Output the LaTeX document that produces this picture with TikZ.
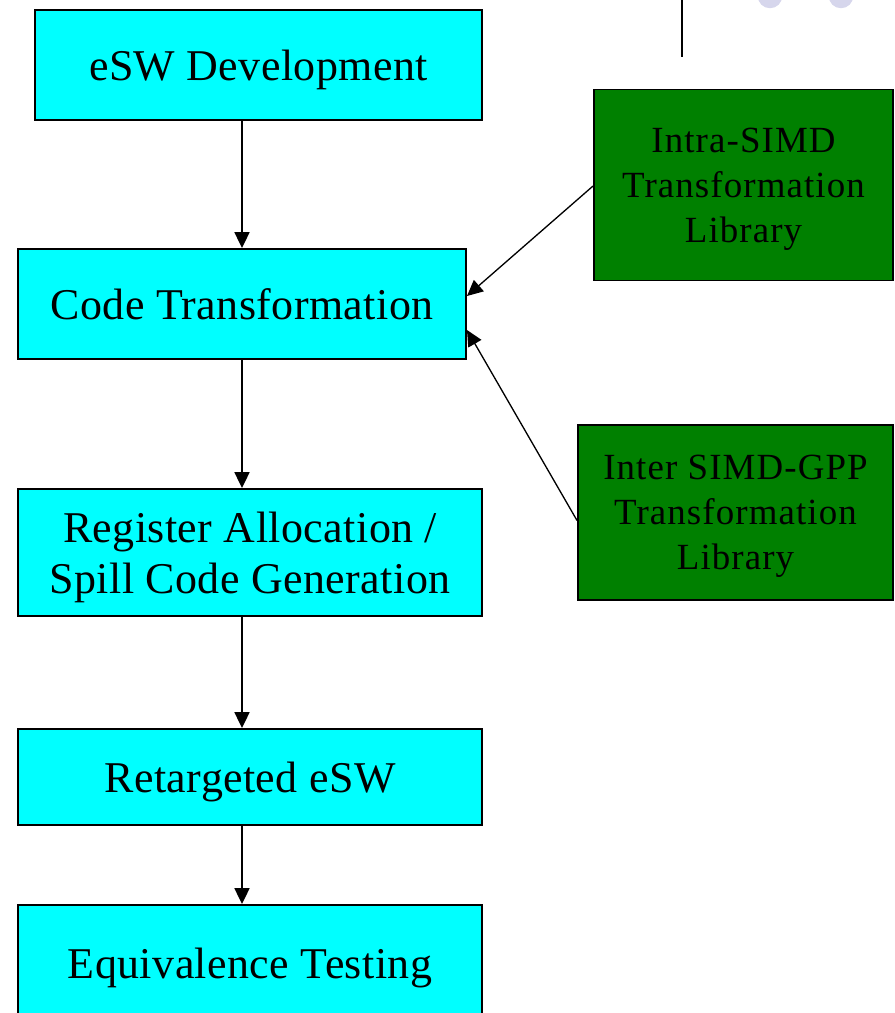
\documentclass[tikz,border=0pt]{standalone}
\usepackage{fontspec}
\setmainfont{Liberation Serif}[LetterSpace=1]
\usetikzlibrary{arrows.meta, calc}
\definecolor{lavender}{RGB}{214,214,236}
\definecolor{stagecyan}{RGB}{0,255,255}
\definecolor{libgreen}{RGB}{0,128,0}

\begin{document}
\begin{tikzpicture}[x=0.02cm, y=-0.02cm]

\newlength{\px}
\setlength{\px}{0.02cm}

\useasboundingbox (0,0) rectangle (894,1013);

% styles
\pgfkeys{/tikz/every path/.style={-{Triangle[length=9pt, width=8.5pt]}, line width=1pt}} % draw arrowheads
\pgfkeys{/box/.style={draw, line width=1.1pt, inner sep=0, align=center, text=black, text depth=0pt}} % base style for boxes
\pgfkeys{/stage/.style={/box, fill=stagecyan, font=\fontsize{25}{29}\selectfont}} % flow steps
\pgfkeys{/lib/.style={/box, fill=libgreen, font=\fontsize{21}{25.6}\selectfont\addfontfeature{LetterSpace=3}}} % libraries

% left column of stages
\coordinate (s1) at (258.5,65);
\coordinate (s2) at (242,304);
\coordinate (s3) at (250,552.5);
\coordinate (s4) at (250,777);
\coordinate (s5) at (250,963);
% right column of libraries
\coordinate (l1) at (743.5,185);
\coordinate (l2) at (735.5,512.5);

% partly visible items at the top edge
\fill[lavender] (770,-4) circle (12.25\px);
\fill[lavender] (841,-4) circle (12.25\px);
\coordinate (top) at (682,0);
\coordinate (topend) at (682,57);
\draw[-, line width=1.1pt] (top) -- (topend);

% stages
\node[/stage, minimum width=447\px, minimum height=110\px] (esw) at (s1) {eSW Development};
\node[/stage, minimum width=448\px, minimum height=110\px] (code) at (s2) {Code Transformation};
\node[/stage, minimum width=464\px, minimum height=127\px] (reg) at (s3) {Register Allocation /\\Spill Code Generation};
\node[/stage, minimum width=464\px, minimum height=96\px] (ret) at (s4) {Retargeted eSW};
\node[/stage, minimum width=464\px, minimum height=116\px] (equ) at (s5) {Equivalence Testing};

% libraries
\node[/lib, minimum width=299\px, minimum height=191\px] (intra) at (l1) {Intra-SIMD\\Transformation\\Library};
\node[/lib, minimum width=315\px, minimum height=175\px] (inter) at (l2) {Inter SIMD-GPP\\Transformation\\Library};

% flow down the stages
\draw (esw.south -| code.north) -- (code.north);
\foreach \a/\b in {code/reg, reg/ret, ret/equ} {
\draw (\a.south -| code.north) -- (\b.north -| code.north);
}

% libraries feed the code transformation
\draw[line width=0.75pt] ($(intra.west)+(0,1)$) -- ($(code.east)+(0,-8)$);
\draw[line width=0.75pt] ($(inter.west)+(0,8)$) -- ($(code.east)+(0,26)$);

\end{tikzpicture}
\end{document}
